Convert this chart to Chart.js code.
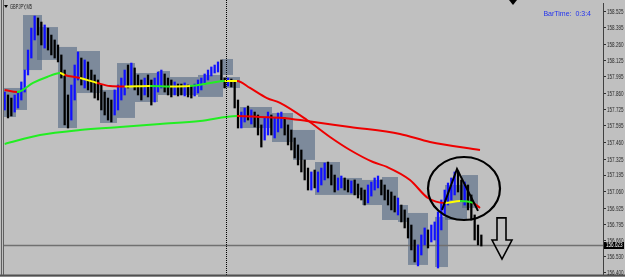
<!DOCTYPE html>
<html>
<head>
<meta charset="utf-8">
<script src="https://cdn.jsdelivr.net/npm/chart.js@4.4.1/dist/chart.umd.min.js"></script>
<style>
  html, body { margin: 0; padding: 0; background: #c0c0c0; }
  #wrap { width: 625px; height: 277px; }
</style>
</head>
<body>
<div id="wrap"><canvas id="chart" width="625" height="277"></canvas></div>
<script>
// GBPJPY M5 bars (high / low per bar, 1 = up bar)
const barHigh = [
  157.871, 157.847, 157.822, 157.847, 157.871, 157.953, 158.050, 158.213, 158.392, 158.490,
  158.474, 158.441, 158.417, 158.392, 158.335, 158.295, 158.254, 158.173, 158.050, 157.847,
  157.928, 158.091, 158.197, 158.148, 158.132, 158.116, 158.050, 158.010, 157.969, 157.928,
  157.871, 157.822, 157.806, 157.888, 157.928, 157.985, 158.050, 158.091, 158.107, 158.067,
  158.010, 157.969, 157.985, 158.010, 157.969, 157.985, 158.034, 158.050, 158.018, 157.985,
  157.969, 157.953, 157.936, 157.936, 157.945, 157.928, 157.920, 157.936, 157.969, 157.985,
  158.018, 158.050, 158.075, 158.091, 158.116, 158.132, 157.985, 157.985, 157.977, 157.953,
  157.806, 157.708, 157.741, 157.757, 157.725, 157.708, 157.684, 157.603, 157.660, 157.708,
  157.684, 157.660, 157.700, 157.708, 157.660, 157.603, 157.562, 157.497, 157.440, 157.399,
  157.318, 157.252, 157.220, 157.236, 157.220, 157.252, 157.293, 157.301, 157.277, 157.195,
  157.171, 157.187, 157.171, 157.155, 157.147, 157.155, 157.122, 157.090, 157.073, 157.114,
  157.138, 157.171, 157.187, 157.155, 157.114, 157.073, 157.057, 157.024, 157.008, 156.951,
  156.911, 156.845, 156.788, 156.666, 156.626, 156.707, 156.764, 156.748, 156.788, 156.813,
  156.894, 156.992, 157.073, 157.130, 157.171, 157.220, 157.228, 157.155, 157.138, 157.114,
  157.033, 156.870, 156.788, 156.707
];
const barLow = [
  157.725, 157.660, 157.676, 157.708, 157.741, 157.806, 157.871, 158.010, 158.148, 158.295,
  158.335, 158.254, 158.229, 158.213, 158.173, 158.148, 158.116, 157.985, 157.603, 157.578,
  157.643, 157.806, 157.969, 157.928, 157.904, 157.888, 157.871, 157.822, 157.806, 157.725,
  157.684, 157.643, 157.627, 157.684, 157.725, 157.806, 157.847, 157.904, 157.928, 157.888,
  157.847, 157.806, 157.847, 157.831, 157.765, 157.790, 157.871, 157.904, 157.871, 157.847,
  157.831, 157.847, 157.839, 157.847, 157.839, 157.831, 157.822, 157.839, 157.863, 157.888,
  157.936, 157.969, 158.002, 158.026, 158.034, 157.969, 157.904, 157.920, 157.912, 157.741,
  157.578, 157.578, 157.627, 157.643, 157.611, 157.586, 157.521, 157.423, 157.480, 157.521,
  157.521, 157.497, 157.546, 157.578, 157.521, 157.440, 157.399, 157.334, 157.277, 157.220,
  157.155, 157.073, 157.073, 157.090, 157.057, 157.114, 157.155, 157.171, 157.114, 157.057,
  157.073, 157.090, 157.073, 157.057, 157.049, 157.033, 157.008, 156.992, 156.951, 156.968,
  157.024, 157.073, 157.090, 157.033, 156.992, 156.951, 156.911, 156.894, 156.870, 156.813,
  156.764, 156.682, 156.585, 156.487, 156.455, 156.544, 156.626, 156.601, 156.650, 156.666,
  156.438, 156.748, 156.870, 156.951, 156.992, 157.033, 157.057, 156.992, 156.951, 156.911,
  156.829, 156.666, 156.626, 156.617
];
const barUp = [
  1,0,0,1,1,1,1,1,1,1,
  0,0,1,0,0,0,0,0,0,0,
  1,1,1,0,1,0,0,0,0,0,
  0,0,0,1,1,1,1,0,1,0,
  0,0,1,0,0,1,1,1,0,0,
  0,1,0,0,1,0,0,1,1,1,
  1,1,1,1,1,0,0,1,0,0,
  0,1,1,0,1,0,0,0,1,1,
  0,1,1,1,0,0,0,0,0,0,
  0,0,1,0,1,1,1,0,0,0,
  1,1,0,0,1,0,0,0,0,1,
  1,1,1,0,0,0,0,0,1,0,
  0,0,0,0,1,1,1,0,1,1,
  1,1,1,1,1,1,0,0,1,0,
  0,0,0,0
];

// fast moving average (colour changes with slope: r / g / y)
const fastX = [0, 3.7, 8.5, 12.7, 16.6, 18, 22.6, 27.7, 31.6, 36, 43.6, 49.6, 55.6, 61.6, 66,
  69.7, 73.6, 78.7, 82.6, 90.7, 97.6, 103.6, 110.5, 114.7, 121.6, 127, 132, 136.6, 140.5, 142.6];
const fastY = [157.888, 157.871, 157.945, 157.993, 158.026, 158.010, 157.985, 157.945, 157.920, 157.916,
  157.920, 157.916, 157.920, 157.945, 157.961, 157.961, 157.904, 157.822, 157.782, 157.643,
  157.505, 157.399, 157.301, 157.261, 157.155, 157.008, 156.968, 156.984, 156.968, 156.927];
const fastSeg = ['r','g','g','g','y','r','y','r','r','y','g','y','g','g','y',
  'r','r','r','r','r','r','r','r','r','r','r','y','g','r'];

// slow moving average
const slowX = [0, 10.6, 22.6, 34.6, 46.6, 58.6, 69.7, 76.6, 83.5, 90.7, 103.6, 118.6, 127.6, 142.6];
const slowY = [157.448, 157.521, 157.562, 157.586, 157.611, 157.635, 157.676, 157.668, 157.660,
  157.635, 157.586, 157.530, 157.464, 157.399];
const slowSeg = ['g','g','g','g','g','g','r','r','r','r','r','r','r'];

// shaded range boxes (bar index from/to, price top/bottom)
const boxFrom = [-0.8, 3.4, 5.5, 9.7, 16.0, 21.7, 28.6, 33.7, 39.1, 46.0, 49.6, 58.0, 65.2, 65.5,
  70.6, 80.2, 86.5, 93.1, 100.6, 107.2, 113.2, 118.0, 121.0, 129.1, 132.1, 137.2];
const boxTo = [3.4, 6.7, 11.2, 16.0, 21.7, 28.6, 33.7, 39.1, 46.0, 49.6, 58.0, 65.5, 68.5, 70.6,
  80.2, 86.5, 93.1, 100.6, 107.2, 113.2, 118.0, 121.0, 127.0, 133.0, 138.7, 142.0];
const boxTop = [157.904, 157.904, 158.498, 158.400, 158.238, 158.205, 157.888, 158.107, 158.026,
  158.042, 157.993, 158.010, 158.140, 157.993, 157.749, 157.700, 157.562, 157.301, 157.171,
  157.155, 157.179, 156.951, 156.886, 156.854, 157.114, 157.195];
const boxBottom = [157.668, 157.725, 158.050, 158.132, 157.578, 157.863, 157.619, 157.660, 157.790,
  157.847, 157.847, 157.831, 158.010, 157.904, 157.578, 157.464, 157.318, 157.033, 157.033,
  156.951, 156.829, 156.813, 156.463, 156.446, 156.829, 156.927];

// price axis labels as printed by the terminal
const priceTicks = [158.525, 158.395, 158.260, 158.125, 157.995, 157.860, 157.725, 157.595, 157.460,
  157.325, 157.195, 157.060, 156.925, 156.795, 156.660, 156.530, 156.400];
const bidPrice = 156.623;
const separatorBar = 66.3;

// hand drawn marks (bar index / price)
const ringLeft = 127.0, ringRight = 148.6, ringTop = 157.342, ringBottom = 156.829;
const peakBars = [131.2, 135.7, 142.0];
const peakPrices = [156.911, 157.244, 156.903];
const arrowBars = [146.2, 147.7, 149.2, 150.4, 152.2];
const arrowPrices = [156.846, 156.666, 156.511];

const colors = { r: '#ee0000', g: '#22ee22', y: '#ffff00' };

// terminal font is much narrower than anything installed, so squeeze text to width
function narrowText(ctx, s, x0, y0, w) {
  const m = ctx.measureText(s).width;
  ctx.save();
  ctx.translate(x0, y0);
  ctx.scale(w / m, 1);
  ctx.fillText(s, 0, 0);
  ctx.restore();
}

const mtPlugin = {
  id: 'mt4',
  beforeDraw(chart) {
    const ctx = chart.ctx;
    ctx.save();
    ctx.fillStyle = '#c0c0c0';
    ctx.fillRect(0, 0, chart.width, chart.height);
    ctx.restore();
  },
  beforeDatasetsDraw(chart) {
    const { ctx, chartArea: a } = chart;
    const x = chart.scales.x, y = chart.scales.y;
    ctx.save();
    ctx.beginPath();
    ctx.rect(a.left, a.top, a.right - a.left, a.bottom - a.top);
    ctx.clip();
    ctx.fillStyle = 'rgba(80,102,130,0.6)';
    for (let k = 0; k < boxFrom.length; k++) {
      const x0 = x.getPixelForValue(boxFrom[k]);
      const x1 = x.getPixelForValue(boxTo[k]);
      const y0 = y.getPixelForValue(boxTop[k]);
      const y1 = y.getPixelForValue(boxBottom[k]);
      ctx.fillRect(x0, y0, x1 - x0, y1 - y0);
    }
    // bid line
    const by = Math.round(y.getPixelForValue(bidPrice)) + 0.5;
    ctx.strokeStyle = '#707070';
    ctx.lineWidth = 1.5;
    ctx.beginPath();
    ctx.moveTo(a.left, by);
    ctx.lineTo(a.right, by);
    ctx.stroke();
    ctx.restore();
  },
  afterDatasetsDraw(chart) {
    const { ctx } = chart;
    const x = chart.scales.x, y = chart.scales.y;
    ctx.save();
    ctx.strokeStyle = '#000';
    // ring
    const l = x.getPixelForValue(ringLeft), r = x.getPixelForValue(ringRight);
    const t = y.getPixelForValue(ringTop), b = y.getPixelForValue(ringBottom);
    ctx.lineWidth = 2.2;
    ctx.beginPath();
    ctx.ellipse((l + r) / 2, (t + b) / 2, (r - l) / 2, (b - t) / 2, 0, 0, Math.PI * 2);
    ctx.stroke();
    // peak
    ctx.lineWidth = 2;
    ctx.beginPath();
    peakBars.forEach((v, k) => {
      const px = x.getPixelForValue(v), py = y.getPixelForValue(peakPrices[k]);
      if (k === 0) ctx.moveTo(px, py); else ctx.lineTo(px, py);
    });
    ctx.stroke();
    // down arrow
    const ax = arrowBars.map(v => x.getPixelForValue(v));
    const ay = arrowPrices.map(v => y.getPixelForValue(v));
    ctx.lineWidth = 1.6;
    ctx.beginPath();
    ctx.moveTo(ax[1], ay[0]);
    ctx.lineTo(ax[3], ay[0]);
    ctx.lineTo(ax[3], ay[1]);
    ctx.lineTo(ax[4], ay[1]);
    ctx.lineTo(ax[2], ay[2]);
    ctx.lineTo(ax[0], ay[1]);
    ctx.lineTo(ax[1], ay[1]);
    ctx.closePath();
    ctx.stroke();
    ctx.restore();
  },
  afterDraw(chart) {
    const { ctx, chartArea: a } = chart;
    const x = chart.scales.x, y = chart.scales.y;
    ctx.save();
    // period separator
    const sx = Math.round(x.getPixelForValue(separatorBar)) + 0.5;
    ctx.strokeStyle = '#000';
    ctx.lineWidth = 1;
    ctx.setLineDash([1, 1]);
    ctx.beginPath();
    ctx.moveTo(sx, 0);
    ctx.lineTo(sx, a.bottom);
    ctx.stroke();
    ctx.setLineDash([]);
    // frame
    ctx.strokeStyle = '#505050';
    ctx.lineWidth = 2;
    ctx.beginPath();
    ctx.moveTo(0, a.bottom + 0.5);
    ctx.lineTo(chart.width, a.bottom + 0.5);
    ctx.stroke();
    ctx.lineWidth = 1;
    ctx.strokeStyle = '#606060';
    ctx.beginPath();
    ctx.moveTo(1.5, 0); ctx.lineTo(1.5, a.bottom);
    ctx.moveTo(3.5, 0); ctx.lineTo(3.5, a.bottom);
    ctx.stroke();
    // chart shift marker
    ctx.fillStyle = '#000';
    ctx.beginPath();
    ctx.moveTo(509, 0); ctx.lineTo(517, 0); ctx.lineTo(513, 5);
    ctx.closePath();
    ctx.fill();
    // symbol title
    ctx.beginPath();
    ctx.moveTo(4, 5); ctx.lineTo(8, 5); ctx.lineTo(6, 8);
    ctx.closePath();
    ctx.fill();
    ctx.textBaseline = 'middle';
    ctx.font = "7px 'Liberation Sans'";
    ctx.fillStyle = '#202020';
    narrowText(ctx, 'GBPJPY,M5', 10, 7, 22);
    // price labels
    ctx.fillStyle = '#282828';
    priceTicks.forEach(v => {
      narrowText(ctx, v.toFixed(3), a.right + 4, y.getPixelForValue(v) + 0.5, 16.5);
    });
    // bar timer
    ctx.font = "7px 'Liberation Sans'";
    ctx.fillStyle = '#2233ee';
    ctx.textAlign = 'right';
    ctx.fillText('BarTime:  0:3:4', 591, 14.5);
    // bid price tag
    const by = Math.round(y.getPixelForValue(bidPrice));
    ctx.fillStyle = '#000';
    ctx.fillRect(a.right + 1, by - 3, 20, 7);
    ctx.fillStyle = '#fff';
    ctx.textAlign = 'left';
    ctx.font = "7px 'Liberation Sans'";
    narrowText(ctx, bidPrice.toFixed(3), a.right + 3, by + 0.5, 16.5);
    ctx.restore();
  }
};

new Chart(document.getElementById('chart'), {
  type: 'bar',
  data: {
    datasets: [
      {
        type: 'line',
        data: fastX.map((v, i) => ({ x: v, y: fastY[i] })),
        borderWidth: 2,
        pointRadius: 0,
        cubicInterpolationMode: 'monotone',
        segment: { borderColor: c => colors[fastSeg[c.p0DataIndex]] },
        borderColor: colors.r,
        order: 1
      },
      {
        type: 'line',
        data: slowX.map((v, i) => ({ x: v, y: slowY[i] })),
        borderWidth: 2,
        pointRadius: 0,
        cubicInterpolationMode: 'monotone',
        segment: { borderColor: c => colors[slowSeg[c.p0DataIndex]] },
        borderColor: colors.r,
        order: 2
      },
      {
        type: 'bar',
        data: barHigh.map((h, i) => ({ x: i, y: [barLow[i], h] })),
        backgroundColor: barUp.map(u => u ? '#1010ff' : '#000000'),
        barThickness: 1.6,
        order: 3
      }
    ]
  },
  options: {
    responsive: false,
    animation: false,
    layout: { padding: { left: 3, top: 3, right: 0, bottom: 2 } },
    plugins: { legend: { display: false }, tooltip: { enabled: false } },
    scales: {
      x: { type: 'linear', min: -0.5, max: 179.5, offset: false, display: false },
      y: {
        type: 'linear',
        position: 'right',
        min: 156.381,
        max: 158.596,
        afterBuildTicks: s => { s.ticks = priceTicks.map(v => ({ value: v })); },
        afterFit: s => { s.width = 22; },
        ticks: { display: false },
        grid: { drawOnChartArea: false, drawTicks: true, tickLength: 3, color: '#303030' },
        border: { display: true, color: '#404040', width: 1 }
      }
    }
  },
  plugins: [mtPlugin]
});
</script>
</body>
</html>
